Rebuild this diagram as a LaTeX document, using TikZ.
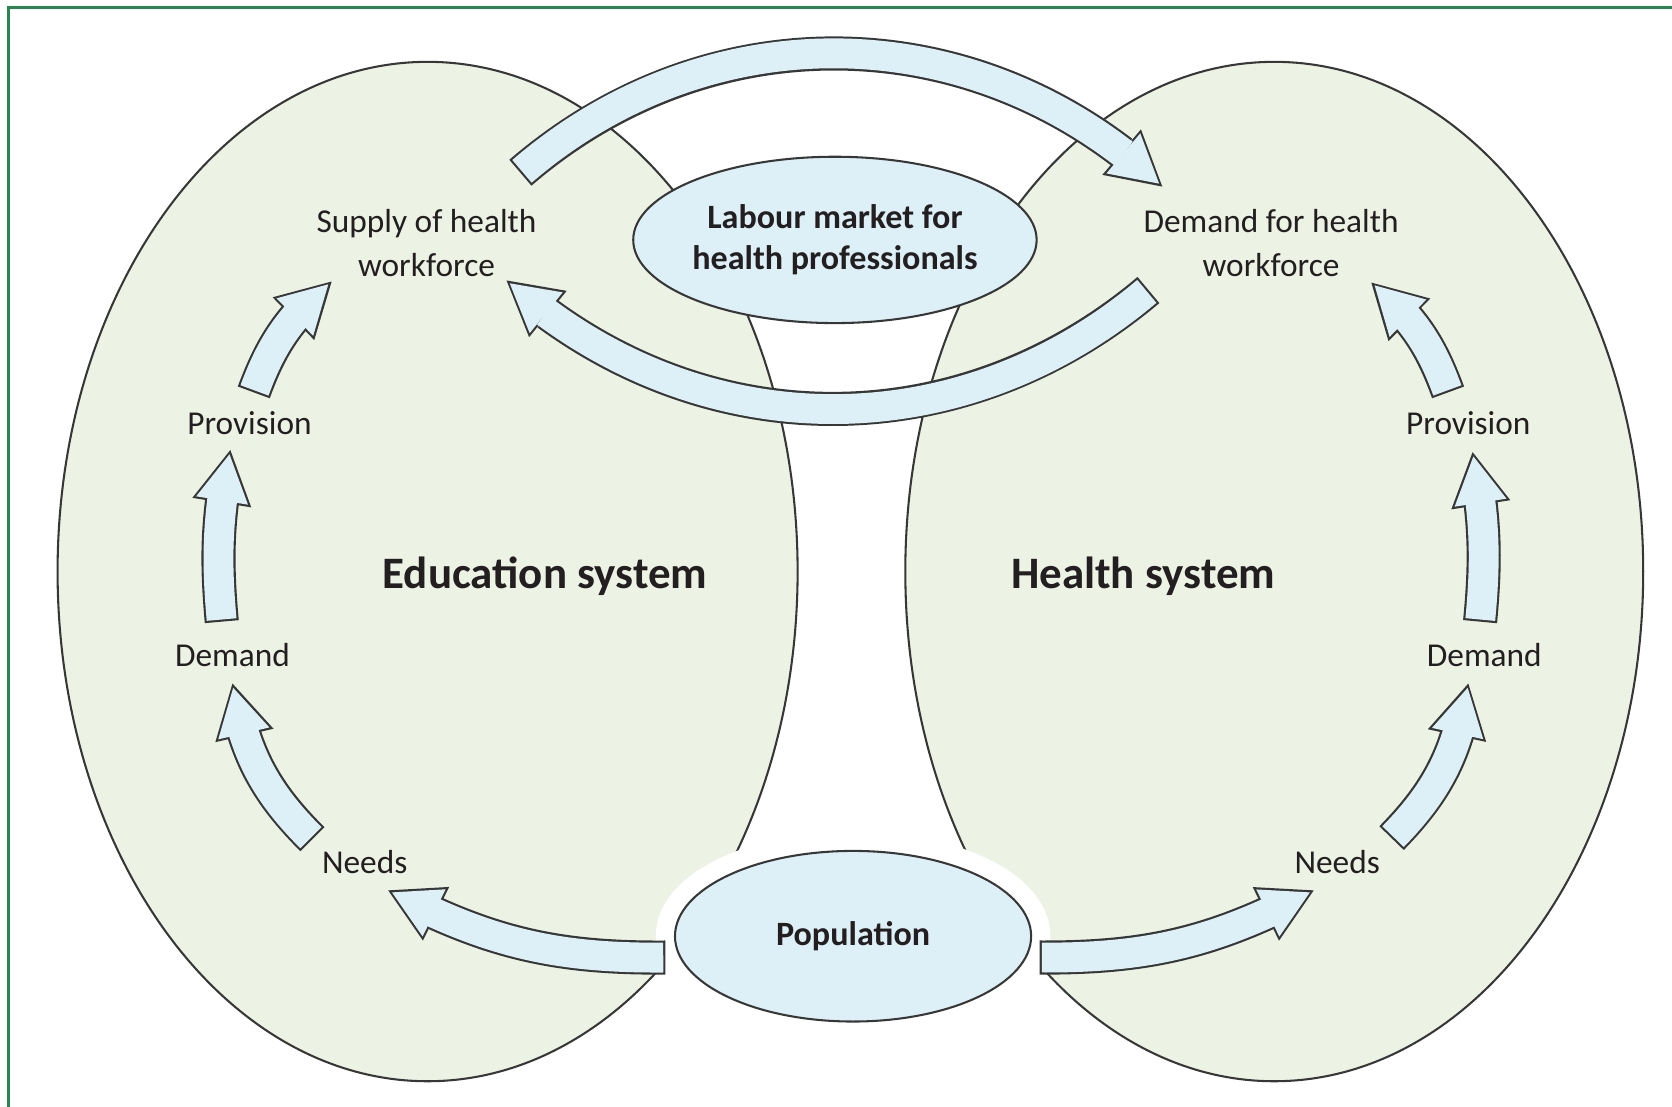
\documentclass[tikz,border=0pt]{standalone}
\usepackage{fontspec}
\setmainfont{Carlito}
\usetikzlibrary{shapes.geometric,arrows.meta,bending}
\definecolor{verdino}{RGB}{236,243,228}
\definecolor{azzurrino}{RGB}{222,240,247}
\definecolor{bordo}{RGB}{55,55,55}
\definecolor{testo}{RGB}{35,31,32}
\definecolor{cornice}{RGB}{40,135,80}
\tikzset{
  etichetta/.style={font=\fontsize{8.9}{11.7}\selectfont, text=testo, align=center, inner sep=0pt},
  sistema/.style={font=\bfseries\fontsize{12}{14}\selectfont, text=testo, inner sep=0pt},
  bolla/.style={ellipse, draw=bordo, fill=azzurrino, line width=0.55pt, inner sep=0pt, text=testo, align=center, font=\bfseries\fontsize{9.1}{10.8}\selectfont},
  frecciafuori/.style={draw=bordo, line width=3.2mm, -{Triangle[length=5mm,width=5.6mm,line width=0pt,flex]}},
  frecciadentro/.style={draw=azzurrino, line width=2.8mm, shorten <=0.2mm, shorten >=0.41mm, -{Triangle[length=4.39mm,width=4.92mm,line width=0pt,flex]}}
}
\newcommand{\freccia}[1]{\draw[frecciafuori] #1; \draw[frecciadentro] #1;}
\begin{document}
\begin{tikzpicture}[x=0.1mm, y=0.1mm]
		\useasboundingbox (0,0) rectangle (1568,1038);
		% cornice
		\draw[cornice, line width=0.7pt] (8,0) -- (8,1031) -- (1568,1031);

		% sistemi
		\draw[bordo, fill=verdino, line width=0.55pt] (401,502) ellipse [x radius=347, y radius=478];
		\draw[bordo, fill=verdino, line width=0.55pt] (1195,502) ellipse [x radius=346, y radius=478];

		% mercato e popolazione
		\node[bolla, minimum width=36mm, minimum height=15.6mm] (mercato) at (783,813) {Labour market for\\health professionals};
		\node[bolla, minimum width=33.4mm, minimum height=16mm, preaction={draw=white, line width=3.6mm}] (popolazione) at (800,160) {Population};

		% etichette
		\node[etichetta] (offerta) at (400,810) {Supply of health\\workforce};
		\node[etichetta] (domanda) at (1192,810) {Demand for health\\workforce};
		\node[etichetta] (provL) at (234,641) {Provision};
		\node[etichetta] (domL) at (218,424) {Demand};
		\node[etichetta] (bisL) at (342,230) {Needs};
		\node[etichetta] (provR) at (1377,641) {Provision};
		\node[etichetta] (domR) at (1392,424) {Demand};
		\node[etichetta] (bisR) at (1254,230) {Needs};
		\node[sistema] (istruzione) at (511,498) {Education system};
		\node[sistema] (sanita) at (1072,498) {Health system};

		% estremi delle frecce
		\coordinate (alto1) at (488,876);   \coordinate (alto2) at (1090,863);
		\coordinate (basso1) at (1077,766); \coordinate (basso2) at (475,775);
		\coordinate (sa1) at (293,251); \coordinate (sa2) at (218,397);
		\coordinate (sb1) at (208,455); \coordinate (sb2) at (216,616);
		\coordinate (sc1) at (238,670); \coordinate (sc2) at (311,774);
		\coordinate (da1) at (1305,252); \coordinate (da2) at (1377,397);
		\coordinate (db1) at (1388,455); \coordinate (db2) at (1381,614);
		\coordinate (dc1) at (1358,670); \coordinate (dc2) at (1286,773);
		\coordinate (ps1) at (624,140); \coordinate (ps2) at (364,203);
		\coordinate (pd1) at (975,140); \coordinate (pd2) at (1232,203);

		% frecce
		\freccia{(alto1) to[bend left=42] (alto2)}
		\freccia{(basso1) to[bend left=41] (basso2)}
		\freccia{(sa1) to[bend left=18] (sa2)}
		\freccia{(sb1) to[bend left=8] (sb2)}
		\freccia{(sc1) to[bend left=15] (sc2)}
		\freccia{(da1) to[bend right=18] (da2)}
		\freccia{(db1) to[bend right=8] (db2)}
		\freccia{(dc1) to[bend right=15] (dc2)}
		\freccia{(ps1) to[bend left=14] (ps2)}
		\freccia{(pd1) to[bend right=14] (pd2)}
	\end{tikzpicture}
\end{document}
